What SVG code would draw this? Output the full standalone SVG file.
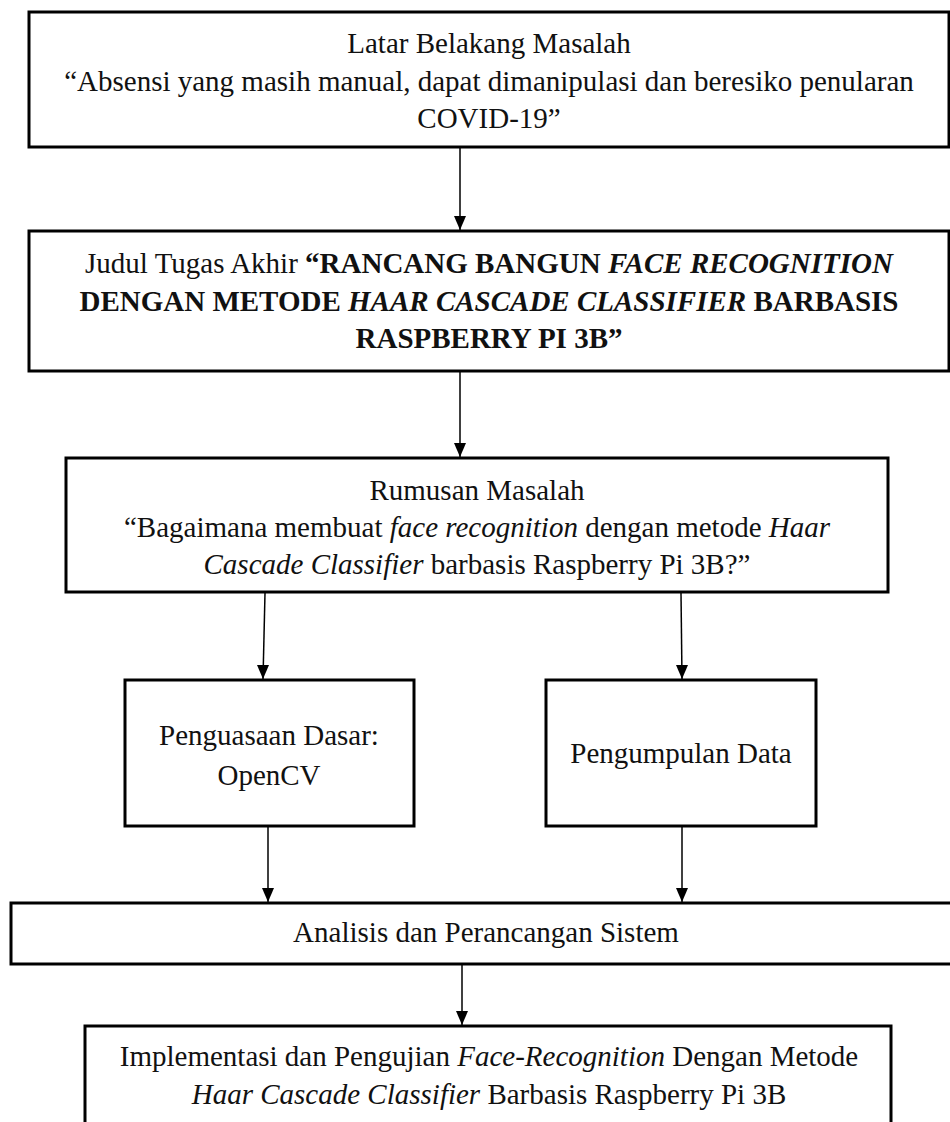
<svg xmlns="http://www.w3.org/2000/svg" width="950" height="1122" viewBox="0 0 950 1122">
<style>
.box{fill:#fff;stroke:#000;stroke-width:3}
.t{font-family:"Liberation Serif","Times New Roman",serif;font-size:29px;fill:#111;text-anchor:middle}
.b{font-weight:bold}
.i{font-style:italic}
.c{stroke:#000;stroke-width:1.5;fill:none;marker-end:url(#ah)}
</style>
<defs>
<marker id="ah" markerUnits="userSpaceOnUse" markerWidth="12" markerHeight="14" viewBox="0 0 12 14" refX="6" refY="14" orient="auto-start-reverse">
<path d="M0,0 L12,0 L6,14 Z" fill="#000" transform="rotate(-90 6 7)"/>
</marker>
<marker id="a2" markerUnits="userSpaceOnUse" markerWidth="12" markerHeight="14" viewBox="0 0 12 14" refX="6" refY="14" orient="0">
<path d="M0,0 L12,0 L6,14 Z" fill="#000"/>
</marker>
</defs>
<rect width="950" height="1122" fill="#fff"/>
<g id="connectors">
<line x1="460" y1="148" x2="460" y2="230" stroke="#000" stroke-width="1.5" marker-end="url(#a2)"/>
<line x1="460" y1="372" x2="460" y2="457" stroke="#000" stroke-width="1.5" marker-end="url(#a2)"/>
<line x1="265" y1="593" x2="263" y2="679" stroke="#000" stroke-width="1.5" marker-end="url(#a2)"/>
<line x1="681" y1="593" x2="682" y2="679" stroke="#000" stroke-width="1.5" marker-end="url(#a2)"/>
<line x1="268" y1="827" x2="268" y2="902" stroke="#000" stroke-width="1.5" marker-end="url(#a2)"/>
<line x1="682" y1="827" x2="682" y2="902" stroke="#000" stroke-width="1.5" marker-end="url(#a2)"/>
<line x1="462" y1="965" x2="462" y2="1025" stroke="#000" stroke-width="1.5" marker-end="url(#a2)"/>
</g>
<g id="latar">
<rect class="box" x="29" y="12" width="920" height="135"/>
<text class="t" x="489" y="53">Latar Belakang Masalah</text>
<text class="t" x="489" y="91">“Absensi yang masih manual, dapat dimanipulasi dan beresiko penularan</text>
<text class="t" x="489" y="128">COVID-19”</text>
</g>
<g id="judul">
<rect class="box" x="29" y="231" width="920" height="140"/>
<text class="t" x="489" y="273">Judul Tugas Akhir <tspan class="b">“RANCANG BANGUN </tspan><tspan class="b i">FACE RECOGNITION</tspan></text>
<text class="t" x="489" y="311"><tspan class="b">DENGAN METODE </tspan><tspan class="b i">HAAR CASCADE CLASSIFIER</tspan><tspan class="b"> BARBASIS</tspan></text>
<text class="t b" x="489" y="348">RASPBERRY PI 3B”</text>
</g>
<g id="rumusan">
<rect class="box" x="66" y="458" width="822" height="134"/>
<text class="t" x="477" y="500">Rumusan Masalah</text>
<text class="t" x="477" y="537">“Bagaimana membuat <tspan class="i">face recognition</tspan> dengan metode <tspan class="i">Haar</tspan></text>
<text class="t" x="477" y="574"><tspan class="i">Cascade Classifier</tspan> barbasis Raspberry Pi 3B?”</text>
</g>
<g id="penguasaan">
<rect class="box" x="125" y="680" width="289" height="146"/>
<text class="t" x="269" y="745">Penguasaan Dasar:</text>
<text class="t" x="269" y="785">OpenCV</text>
</g>
<g id="pengumpulan">
<rect class="box" x="546" y="680" width="270" height="146"/>
<text class="t" x="681" y="763">Pengumpulan Data</text>
</g>
<g id="analisis">
<rect class="box" x="11" y="903" width="945" height="61"/>
<text class="t" x="486" y="942">Analisis dan Perancangan Sistem</text>
</g>
<g id="implementasi">
<rect class="box" x="85" y="1026" width="806" height="110"/>
<text class="t" x="489" y="1066">Implementasi dan Pengujian <tspan class="i">Face-Recognition</tspan> Dengan Metode</text>
<text class="t" x="489" y="1104"><tspan class="i">Haar Cascade Classifier</tspan> Barbasis Raspberry Pi 3B</text>
</g>
</svg>
